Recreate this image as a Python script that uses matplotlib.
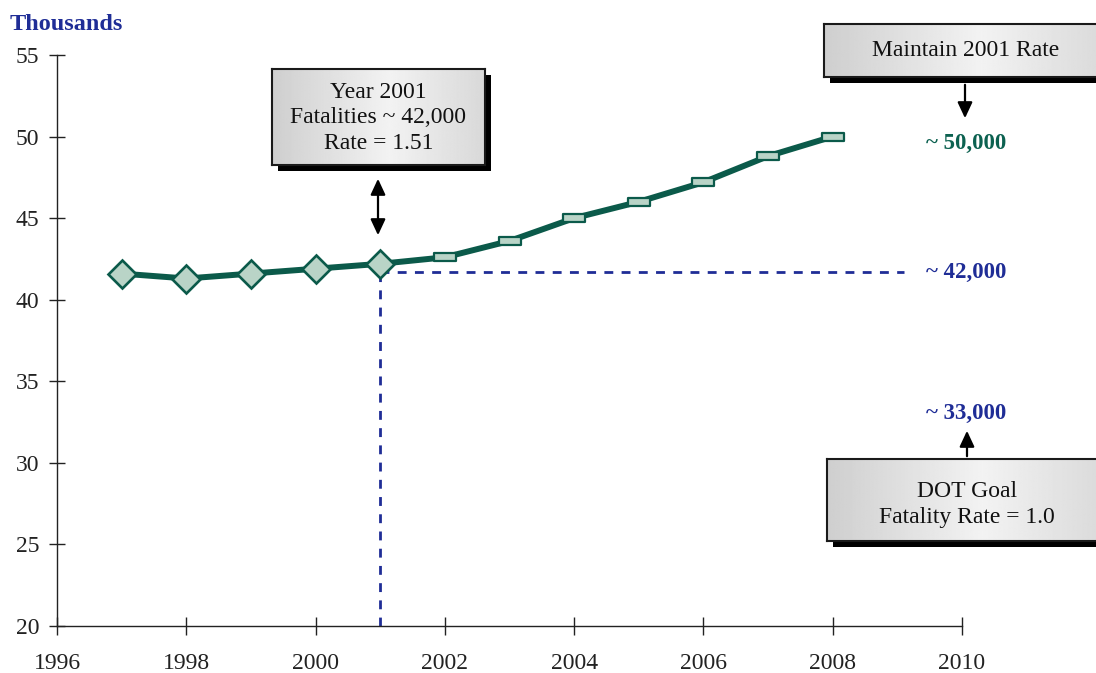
import numpy as np
import matplotlib
matplotlib.use("Agg")
import matplotlib.pyplot as plt
from matplotlib.path import Path
from matplotlib.patches import Rectangle, FancyArrowPatch

plt.rcParams['font.family'] = ['Liberation Serif', 'DejaVu Serif']

# Fatalities (thousands): recorded years and projection at the 2001 rate
actual_years = [1997, 1998, 1999, 2000, 2001]
actual_vals = [41.6, 41.3, 41.6, 41.9, 42.2]
proj_years = [2002, 2003, 2004, 2005, 2006, 2007, 2008]
proj_vals = [42.6, 43.6, 45.0, 46.0, 47.2, 48.8, 50.0]

ref_year = 2001
ref_level = 41.7
ref_end = 2009.1

xticks = [1996, 1998, 2000, 2002, 2004, 2006, 2008, 2010]
yticks = [20, 25, 30, 35, 40, 45, 50, 55]

GREEN = '#0b5a4a'
FACE = '#b9d4c7'
BLUE = '#1f2d96'

W, H = 1096, 673
fig = plt.figure(figsize=(W / 100, H / 100), dpi=100)


def fx(px):
    return px / W


def fy(py):
    return 1 - py / H


ax = fig.add_axes([fx(57), fy(626), fx(962 - 57), (626 - 55) / H])
ax.set_facecolor('none')
ax.set_xlim(1996, 2010)
ax.set_ylim(20, 55)
ax.set_xticks(xticks)
ax.set_yticks(yticks)
for s in ('top', 'right'):
    ax.spines[s].set_visible(False)
for s in ('left', 'bottom'):
    ax.spines[s].set_linewidth(1.0)
    ax.spines[s].set_color('#222222')
ax.tick_params(axis='x', direction='inout', length=13, width=1.0, pad=13,
               labelsize=17, colors='#222222')
ax.tick_params(axis='y', direction='inout', length=11.5, width=1.0, pad=7,
               labelsize=17, colors='#222222')

# reference lines at the 2001 level
ax.plot([ref_year, ref_year], [20, ref_level], color=BLUE, lw=2,
        ls=(0, (3.2, 3)), zorder=2, clip_on=False)
ax.plot([ref_year, ref_end], [ref_level, ref_level], color=BLUE, lw=2,
        ls=(0, (3.2, 3)), zorder=2, clip_on=False)

# trend line
all_years = actual_years + proj_years
all_vals = actual_vals + proj_vals
ax.plot(all_years, all_vals, color=GREEN, lw=4.3, zorder=3,
        solid_capstyle='butt', solid_joinstyle='round')

rect_marker = Path([(-1, -0.36), (1, -0.36), (1, 0.36), (-1, 0.36), (-1, -0.36)],
                   [Path.MOVETO, Path.LINETO, Path.LINETO, Path.LINETO, Path.CLOSEPOLY])
ax.plot(actual_years, actual_vals, ls='none', marker='D', ms=14.5,
        mfc=FACE, mec=GREEN, mew=1.9, zorder=4)
ax.plot(proj_years, proj_vals, ls='none', marker=rect_marker, ms=16,
        mfc=FACE, mec=GREEN, mew=1.6, zorder=4)

fig.text(fx(10), fy(25), 'Thousands', color=BLUE, fontsize=17.5,
         fontweight='bold', ha='left', va='center')

# value callouts at the right
ax.text(2010.07, 49.6, '~ 50,000', color='#0c6150', fontsize=16.5,
        fontweight='bold', ha='center', va='center', clip_on=False)
ax.text(2010.07, ref_level, '~ 42,000', color=BLUE, fontsize=16.5,
        fontweight='bold', ha='center', va='center', clip_on=False)
ax.text(2010.07, 33.0, '~ 33,000', color=BLUE, fontsize=16.5,
        fontweight='bold', ha='center', va='center', clip_on=False)

# gradient callout boxes with drop shadow
grad_pos = np.array([0.0, 0.55, 1.0])
grad_val = np.array([0.81, 0.95, 0.85])
gx = np.linspace(0, 1, 256)
gradient = np.interp(gx, grad_pos, grad_val)[None, :]


def callout(x0, y0, x1, y1, shadow=6):
    fig.add_artist(Rectangle((fx(x0 + shadow), fy(y1 + shadow)),
                             fx(x1 - x0), (y1 - y0) / H,
                             transform=fig.transFigure, facecolor='black',
                             edgecolor='none', zorder=3))
    bax = fig.add_axes([fx(x0), fy(y1), fx(x1 - x0), (y1 - y0) / H], zorder=5)
    bax.imshow(gradient, cmap='gray', vmin=0, vmax=1, aspect='auto',
               extent=(0, 1, 0, 1), interpolation='bilinear')
    bax.set_xlim(0, 1)
    bax.set_ylim(0, 1)
    bax.set_xticks([])
    bax.set_yticks([])
    for sp in bax.spines.values():
        sp.set_linewidth(1.5)
        sp.set_color('#1a1a1a')
    return bax


b1 = callout(272, 69, 485, 165)
b1.text(0.5, 0.49, 'Year 2001\nFatalities ~ 42,000\nRate = 1.51',
        transform=b1.transAxes, ha='center', va='center', fontsize=17,
        linespacing=1.3, color='#111111')

b2 = callout(824, 24, 1110, 77)
b2.text((966 - 824) / (1110 - 824), 0.5, 'Maintain 2001 Rate',
        transform=b2.transAxes, ha='center', va='center', fontsize=17,
        color='#111111')

b3 = callout(827, 459, 1110, 541)
b3.text((967 - 827) / (1110 - 827), 0.45, 'DOT Goal\nFatality Rate = 1.0',
        transform=b3.transAxes, ha='center', va='center', fontsize=17,
        linespacing=1.3, color='#111111')

# connector arrows
arrow_kw = dict(transform=fig.transFigure, color='black', lw=1.6,
                mutation_scale=16, zorder=6)
fig.add_artist(FancyArrowPatch((fx(378), fy(176)), (fx(378), fy(238)),
                               arrowstyle='<|-|>,head_length=0.6,head_width=0.28',
                               **arrow_kw))
fig.add_artist(FancyArrowPatch((fx(965), fy(82)), (fx(965), fy(121)),
                               arrowstyle='-|>,head_length=0.6,head_width=0.28',
                               **arrow_kw))
fig.add_artist(FancyArrowPatch((fx(967), fy(459)), (fx(967), fy(428)),
                               arrowstyle='-|>,head_length=0.6,head_width=0.28',
                               **arrow_kw))

fig.savefig('out.png', dpi=100)
